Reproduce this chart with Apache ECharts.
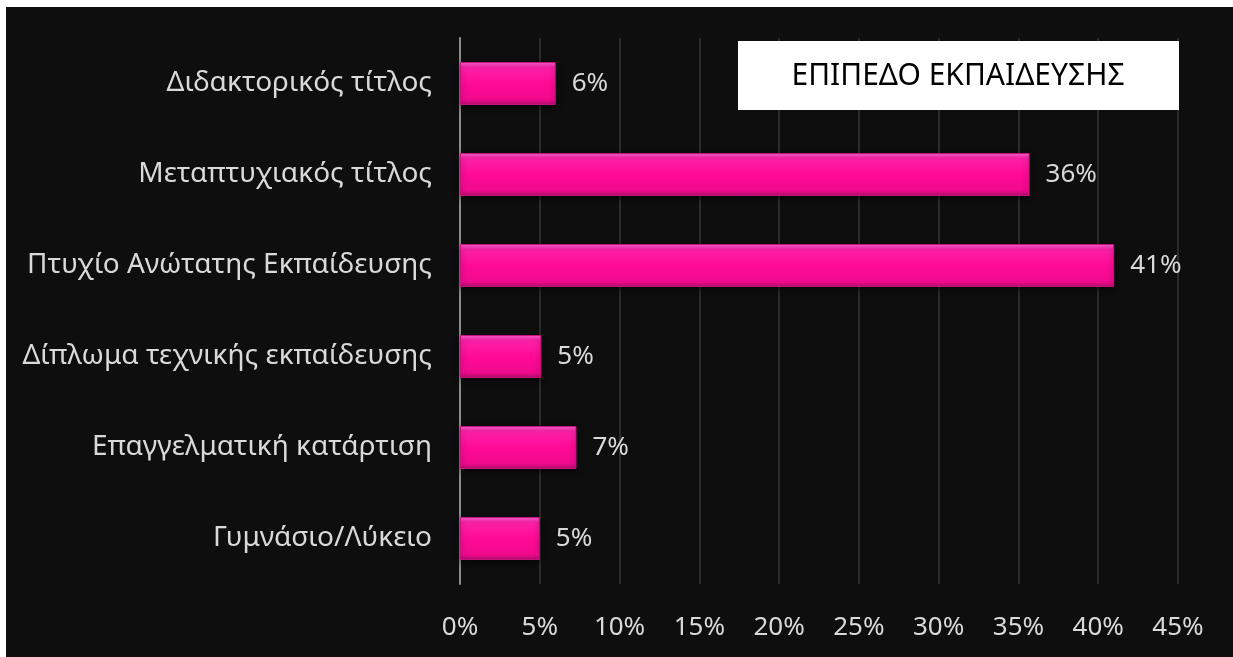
<!DOCTYPE html>
<html>
<head>
<meta charset="utf-8">
<script src="https://cdn.jsdelivr.net/npm/echarts@6/dist/echarts.min.js"></script>
<style>
  html, body { margin: 0; padding: 0; background: #ffffff; }
  #main { position: absolute; left: 6px; top: 7px; width: 1227px; height: 650px; }
</style>
</head>
<body>
<div id="main"></div>
<script>
// categories top to bottom
const categories = [
  'Διδακτορικός τίτλος',
  'Μεταπτυχιακός τίτλος',
  'Πτυχίο Ανώτατης Εκπαίδευσης',
  'Δίπλωμα τεχνικής εκπαίδευσης',
  'Επαγγελματική κατάρτιση',
  'Γυμνάσιο/Λύκειο'
]
// percentages
const values = [6, 35.7, 41, 5.1, 7.3, 5]
const titleText = 'ΕΠΙΠΕΔΟ ΕΚΠΑΙΔΕΥΣΗΣ'

const font = 'Noto Sans'
const labelColor = '#d9d9d9'

const chart = echarts.init(document.getElementById('main'))
chart.setOption({
  backgroundColor: '#0e0e0e',
  animation: false,
  grid: { left: 454, right: 55, top: 31, bottom: 73, containLabel: false },
  xAxis: {
    type: 'value',
    min: 0,
    max: 45,
    interval: 5,
    axisLine: { show: false },
    axisTick: { show: false },
    splitLine: { lineStyle: { color: '#2b2b2b', width: 2 } },
    axisLabel: {
      color: labelColor,
      fontFamily: font,
      fontSize: 26,
      margin: 31,
      formatter: v => v + '%'
    }
  },
  yAxis: {
    type: 'category',
    data: categories,
    inverse: true,
    axisLine: { show: true, lineStyle: { color: '#8c8c8c', width: 2 } },
    axisTick: { show: false },
    axisLabel: {
      color: labelColor,
      fontFamily: font,
      fontSize: 28,
      margin: 28
    }
  },
  series: [
    {
      type: 'bar',
      data: values,
      barWidth: 43,
      itemStyle: {
        color: new echarts.graphic.LinearGradient(0, 0, 0, 1, [
          { offset: 0, color: '#ff6ad8' },
          { offset: 0.12, color: '#ff22ab' },
          { offset: 0.5, color: '#ff0a96' },
          { offset: 0.88, color: '#f20a8e' },
          { offset: 1, color: '#b3106d' }
        ]),
        borderColor: '#c8107c',
        borderWidth: 1,
        shadowColor: 'rgba(0,0,0,0.6)',
        shadowBlur: 6,
        shadowOffsetY: 2
      },
      label: {
        show: true,
        position: 'right',
        distance: 16,
        color: labelColor,
        fontFamily: font,
        fontSize: 26,
        formatter: p => Math.round(p.value) + '%'
      }
    }
  ],
  graphic: [
    {
      type: 'group',
      left: 732,
      top: 34,
      z: 100,
      children: [
        {
          type: 'rect',
          z: 100,
          shape: { x: 0, y: 0, width: 441, height: 69 },
          style: { fill: '#ffffff' }
        },
        {
          type: 'text',
          z: 101,
          x: 220,
          y: 35,
          style: {
            text: titleText,
            fill: '#000000',
            fontFamily: font,
            fontSize: 30,
            align: 'center',
            verticalAlign: 'middle'
          }
        }
      ]
    }
  ]
})
</script>
</body>
</html>
